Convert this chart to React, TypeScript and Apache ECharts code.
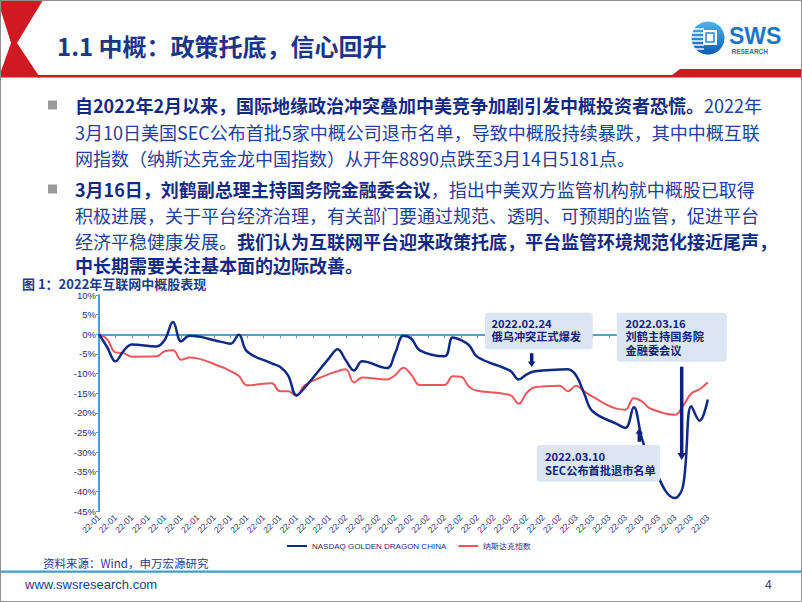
import React, { useEffect, useRef } from "react";
import * as echarts from "echarts";

// ---------------- data ----------------
const tradingDays = [
  "2022-01-03", "2022-01-04", "2022-01-05", "2022-01-06", "2022-01-07",
  "2022-01-10", "2022-01-11", "2022-01-12", "2022-01-13", "2022-01-14",
  "2022-01-18", "2022-01-19", "2022-01-20", "2022-01-21",
  "2022-01-24", "2022-01-25", "2022-01-26", "2022-01-27", "2022-01-28",
  "2022-01-31", "2022-02-01", "2022-02-02", "2022-02-03", "2022-02-04",
  "2022-02-07", "2022-02-08", "2022-02-09", "2022-02-10", "2022-02-11",
  "2022-02-14", "2022-02-15", "2022-02-16", "2022-02-17", "2022-02-18",
  "2022-02-22", "2022-02-23", "2022-02-24", "2022-02-25",
  "2022-02-28", "2022-03-01", "2022-03-02", "2022-03-03", "2022-03-04",
  "2022-03-07", "2022-03-08", "2022-03-09", "2022-03-10", "2022-03-11",
  "2022-03-14", "2022-03-15", "2022-03-16", "2022-03-17", "2022-03-18",
];

const goldenDragon = [
  0, -3.3, -6.9, -4.2, -2.6,
  -3.1, -1.4, 3.1, -1.8, -0.4,
  -2.0, -2.4, -0.1, -4.4,
  -7.4, -8.3, -10.5, -15.5, -13.6,
  -6.0, -3.8, -6.6, -9.2, -6.9,
  -8.6, -4.8, -0.4, -1.2, -4.1,
  -5.6, -0.8, -1.5, -2.8, -5.8,
  -9.3, -11.5, -10.2, -9.4,
  -9.0, -8.9, -10.5, -15.2, -19.6,
  -22.9, -23.8, -18.6, -26.6, -32.0,
  -41.7, -38.6, -18.3, -22.0, -16.6,
];

const nasdaqComposite = [
  0, -1.3, -4.6, -4.8, -5.7,
  -5.6, -4.3, -4.1, -6.5, -5.9,
  -8.4, -9.4, -10.6, -13.0,
  -12.5, -14.5, -14.5, -15.7, -13.0,
  -10.1, -9.4, -8.9, -12.3, -11.0,
  -11.5, -10.4, -8.5, -10.4, -12.9,
  -12.9, -10.7, -10.8, -13.4, -14.4,
  -15.5, -17.7, -14.9, -13.5,
  -13.1, -14.5, -13.1, -14.5, -15.9,
  -19.0, -19.2, -16.3, -17.1, -18.9,
  -20.5, -18.2, -15.1, -14.0, -12.2,
];

const seriesNames = ["NASDAQ GOLDEN DRAGON CHINA", "纳斯达克指数"];
const axisFirstDay = "2022-01-03";
const axisLastDay = "2022-03-19";
const yMin = -45;
const yMax = 10;
const yStep = 5;

const titleText = "1.1 中概：政策托底，信心回升";
const figureCaption = "图 1：2022年互联网中概股表现";
const sourceText = "资料来源：Wind，申万宏源研究";
const siteText = "www.swsresearch.com";
const pageNo = "4";

// paragraph lines: [bold?, text]
const paragraphLines: [boolean, string][][] = [
  [[true, "自2022年2月以来，国际地缘政治冲突叠加中美竞争加剧引发中概投资者恐慌。"], [false, "2022年"]],
  [[false, "3月10日美国SEC公布首批5家中概公司退市名单，导致中概股持续暴跌，其中中概互联"]],
  [[false, "网指数（纳斯达克金龙中国指数）从开年8890点跌至3月14日5181点。"]],
  [[true, "3月16日，刘鹤副总理主持国务院金融委会议"], [false, "，指出中美双方监管机构就中概股已取得"]],
  [[false, "积极进展，关于平台经济治理，有关部门要通过规范、透明、可预期的监管，促进平台"]],
  [[false, "经济平稳健康发展。"], [true, "我们认为互联网平台迎来政策托底，平台监管环境规范化接近尾声，"]],
  [[true, "中长期需要关注基本面的边际改善。"]],
];

const notes = [
  { lines: ["2022.02.24", "俄乌冲突正式爆发"] },
  { lines: ["2022.03.16", "刘鹤主持国务院", "金融委会议"] },
  { lines: ["2022.03.10", "SEC公布首批退市名单"] },
];

// ---------------- helpers ----------------
function buildCalendar(first: string, last: string): string[] {
  const out: string[] = [];
  const d = new Date(first + "T00:00:00Z");
  const end = new Date(last + "T00:00:00Z");
  while (d.getTime() <= end.getTime()) {
    out.push(d.toISOString().slice(0, 10));
    d.setUTCDate(d.getUTCDate() + 1);
  }
  return out;
}

const calendar = buildCalendar(axisFirstDay, axisLastDay);
function onCalendar(values: number[]) {
  return calendar.map((day) => {
    const i = tradingDays.indexOf(day);
    return i >= 0 ? values[i] : null;
  });
}

function downArrow(cx: number, y0: number, y1: number, sw: number, hw: number, hh: number) {
  return [
    [cx - sw / 2, y0], [cx + sw / 2, y0], [cx + sw / 2, y1 - hh], [cx + hw / 2, y1 - hh],
    [cx, y1], [cx - hw / 2, y1 - hh], [cx - sw / 2, y1 - hh],
  ];
}
function upArrow(cx: number, yTip: number, yEnd: number, sw: number, hw: number, hh: number) {
  return [
    [cx, yTip], [cx + hw / 2, yTip + hh], [cx + sw / 2, yTip + hh], [cx + sw / 2, yEnd],
    [cx - sw / 2, yEnd], [cx - sw / 2, yTip + hh], [cx - hw / 2, yTip + hh],
  ];
}

const CJK = "'Noto Sans CJK SC', 'Noto Sans', sans-serif";
const LATIN = "'Liberation Sans', Arial, sans-serif";
const NAVY = "#132a83";
const BLUE_TEXT = "#23409e";
const RED = "#cf1a21";
const AXIS_BLUE = "#5b9bd5";
const LABEL_NAVY = "#1f2d7a";
const ARROW = "#0e1f80";

function richLine(segs: [boolean, string][], x: number, y: number) {
  return {
    type: "text",
    x,
    y,
    style: {
      text: segs.map(([b, t]) => (b ? `{b|${t}}` : `{n|${t}}`)).join(""),
      rich: {
        b: { fontSize: 18, lineHeight: 18, fontWeight: "bold", fill: NAVY, fontFamily: CJK },
        n: { fontSize: 18, lineHeight: 18, fontWeight: "normal", fill: BLUE_TEXT, fontFamily: CJK },
      },
      fontSize: 18,
      lineHeight: 18,
      fontFamily: CJK,
      verticalAlign: "middle",
    },
  };
}

const NOTE_LINE = 13.8;
function noteBox(lines: string[], x: number, y: number, w: number, h: number, tx: number, ty: number) {
  return [
    { type: "rect", shape: { x, y, width: w, height: h, r: 3 }, style: { fill: "#dce6f2" }, z: 10 },
    {
      type: "text",
      x: tx,
      y: ty - NOTE_LINE / 2,
      z: 11,
      style: {
        text: lines.join("\n"),
        fontSize: 11.2,
        lineHeight: NOTE_LINE,
        fontWeight: "bold",
        fontFamily: CJK,
        fill: "#10247c",
        verticalAlign: "top",
      },
    },
  ];
}

const lineYs = [105, 132, 158, 189, 214.5, 240.5, 264.8];

const graphics: any[] = [
  // header chevron
  {
    type: "polygon",
    shape: { points: [[0, 0], [43, 0], [17, 43], [40, 77.5], [0, 77.5]] },
    style: { fill: RED },
  },
  {
    type: "polygon",
    shape: { points: [[1, 11], [11, 43], [1, 71]] },
    style: { fill: "#ffffff" },
  },
  {
    type: "polygon",
    shape: { points: [[38, 75], [672, 75], [680, 69], [802, 69], [802, 77.5], [38, 77.5]] },
    style: { fill: RED },
  },
  {
    type: "text",
    x: 57,
    y: 45,
    style: { text: titleText, fontSize: 24, fontWeight: "bold", fontFamily: CJK, fill: "#1a3589", verticalAlign: "middle" },
  },
  // logo
  {
    type: "circle",
    shape: { cx: 708, cy: 38, r: 16.5 },
    style: {
      fill: new echarts.graphic.LinearGradient(0, 0, 0, 1, [
        { offset: 0, color: "#4db5ee" },
        { offset: 1, color: "#0d5db3" },
      ]),
    },
  },
  ...[29, 33, 37, 41, 45, 49].map((yy) => ({
    type: "line",
    shape: { x1: 691, y1: yy, x2: 704, y2: yy },
    style: { stroke: "#ffffff", lineWidth: 1.4 },
  })),
  { type: "rect", shape: { x: 703, y: 30, width: 14, height: 15 }, style: { fill: "#ffffff" } },
  { type: "rect", shape: { x: 706, y: 33, width: 8, height: 9 }, style: { fill: "#ffffff", stroke: "#2a86d6", lineWidth: 1.5 } },
  {
    type: "text",
    x: 729,
    y: 35.5,
    style: { text: "SWS", fontSize: 23, fontWeight: "bold", fontFamily: LATIN, fill: "#1b76c8", verticalAlign: "middle" },
  },
  {
    type: "text",
    x: 731.5,
    y: 51.5,
    style: { text: "RESEARCH", fontSize: 6.5, fontWeight: "bold", fontFamily: LATIN, fill: "#1b76c8", verticalAlign: "middle" },
  },
  // bullets
  { type: "rect", shape: { x: 48, y: 100.5, width: 9, height: 9 }, style: { fill: "#9a9a9a" } },
  { type: "rect", shape: { x: 48, y: 184.5, width: 9, height: 9 }, style: { fill: "#9a9a9a" } },
  ...paragraphLines.map((segs, i) => richLine(segs, 75, lineYs[i])),
  // caption
  {
    type: "text",
    x: 22,
    y: 283,
    style: {
      text: figureCaption,
      fontSize: 13,
      lineHeight: 13,
      fontWeight: "bold",
      fontFamily: CJK,
      fill: "#1d3a8e",
      verticalAlign: "middle",
    },
  },
  // annotations
  ...noteBox(notes[0].lines, 485, 312.7, 107.7, 36.6, 491.5, 322.7),
  ...noteBox(notes[1].lines, 616.7, 312.7, 110, 49, 625.5, 322.7),
  ...noteBox(notes[2].lines, 536.7, 445, 123.3, 36.7, 545, 456),
  { type: "polygon", z: 12, shape: { points: downArrow(531.7, 353.3, 367, 3.5, 7.5, 5.5) }, style: { fill: ARROW } },
  { type: "polygon", z: 12, shape: { points: downArrow(681.7, 366.7, 460, 3.5, 8.5, 7) }, style: { fill: ARROW } },
  { type: "polygon", z: 12, shape: { points: upArrow(639.3, 428.3, 441.7, 3.5, 7.5, 5.5) }, style: { fill: ARROW } },
  // footer
  {
    type: "text",
    x: 43,
    y: 563,
    style: { text: sourceText, fontSize: 11.5, fontFamily: CJK, fill: "#2a3b8f", verticalAlign: "middle" },
  },
  { type: "rect", shape: { x: 0, y: 570.5, width: 802, height: 2.2 }, style: { fill: "#3a9fd2" } },
  {
    type: "text",
    x: 25,
    y: 584.5,
    style: { text: siteText, fontSize: 13, fontFamily: LATIN, fill: "#1f3a8f", verticalAlign: "middle" },
  },
  {
    type: "text",
    x: 765,
    y: 585,
    style: { text: pageNo, fontSize: 12, fontFamily: LATIN, fill: "#333c6b", verticalAlign: "middle" },
  },
  // slide border
  {
    type: "rect",
    z: 20,
    shape: { x: 0.5, y: 0.5, width: 801, height: 601 },
    style: { fill: "none", stroke: "#8f8f8f", lineWidth: 1 },
  },
];

const option: any = {
  animation: false,
  backgroundColor: "#ffffff",
  grid: { left: 99, right: 86, top: 295, bottom: 91, containLabel: false },
  legend: {
    left: 282,
    top: 537,
    icon: "rect",
    itemWidth: 20,
    itemHeight: 2,
    itemGap: 12,
    textStyle: { fontSize: 8, color: LABEL_NAVY, fontFamily: LATIN },
    data: seriesNames,
  },
  xAxis: {
    type: "category",
    data: calendar,
    boundaryGap: false,
    axisLine: { lineStyle: { color: AXIS_BLUE, width: 2 } },
    axisTick: { show: true, interval: 1, length: 4, lineStyle: { color: AXIS_BLUE, width: 1 } },
    axisLabel: {
      interval: 1,
      rotate: 45,
      fontSize: 8.5,
      color: LABEL_NAVY,
      fontFamily: LATIN,
      margin: 5,
      formatter: (v: string) => v.slice(2, 7),
    },
    splitLine: { show: false },
  },
  yAxis: {
    type: "value",
    min: yMin,
    max: yMax,
    interval: yStep,
    axisLine: { show: true, lineStyle: { color: AXIS_BLUE, width: 2 } },
    axisTick: { show: true, length: 3, lineStyle: { color: AXIS_BLUE } },
    axisLabel: {
      formatter: "{value}%",
      fontSize: 9.5,
      lineHeight: 10,
      color: LABEL_NAVY,
      fontFamily: LATIN,
      margin: 3,
    },
    splitLine: { show: false },
  },
  series: [
    {
      name: seriesNames[0],
      type: "line",
      data: onCalendar(goldenDragon),
      connectNulls: true,
      smooth: 0.4,
      symbol: "none",
      lineStyle: { color: "#0f2a84", width: 2.5 },
      itemStyle: { color: "#0f2a84" },
      z: 3,
    },
    {
      name: seriesNames[1],
      type: "line",
      data: onCalendar(nasdaqComposite),
      connectNulls: true,
      smooth: 0.4,
      symbol: "none",
      lineStyle: { color: "#e9585c", width: 2 },
      itemStyle: { color: "#e9585c" },
      z: 2,
    },
  ],
  graphic: graphics,
};

export default function App() {
  const ref = useRef<HTMLDivElement>(null);
  useEffect(() => {
    document.body.style.margin = "0";
    const chart = echarts.init(ref.current as HTMLDivElement, null, { renderer: "svg" });
    chart.setOption(option);
    return () => chart.dispose();
  }, []);
  return <div ref={ref} style={{ width: 802, height: 602, background: "#ffffff" }} />;
}
